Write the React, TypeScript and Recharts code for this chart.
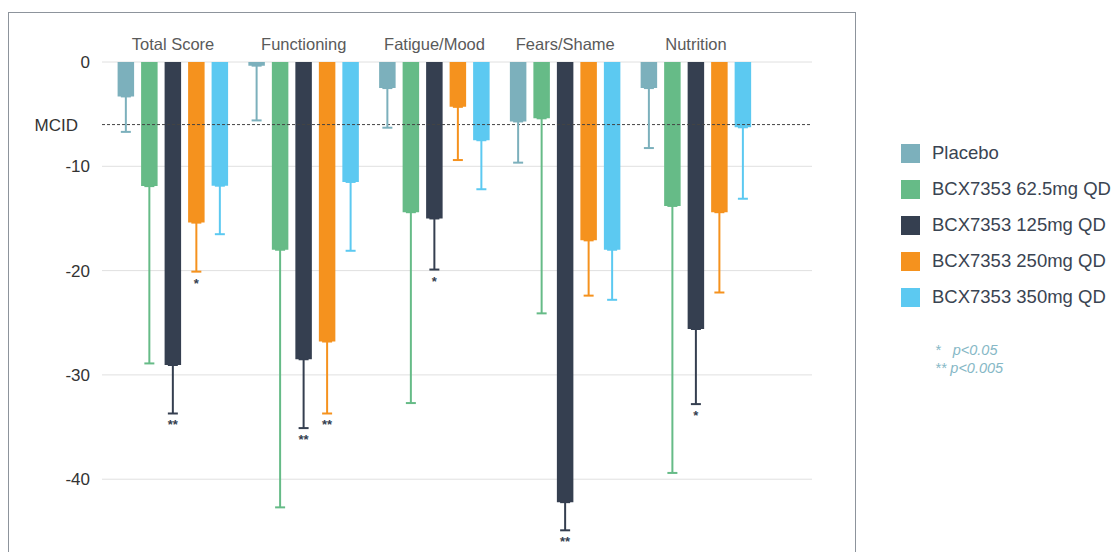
import React from 'react';
import { BarChart, Bar, XAxis, YAxis, CartesianGrid, ErrorBar, ReferenceLine, LabelList, Legend } from 'recharts';

const categories = ['Total Score', 'Functioning', 'Fatigue/Mood', 'Fears/Shame', 'Nutrition'];
const placebo = [-3.3, -0.35, -2.5, -5.7, -2.5];
const placeboErr = [3.4, 5.25, 3.8, 3.95, 5.75];
const dose62 = [-11.9, -18.0, -14.4, -5.4, -13.8];
const dose62Err = [17.0, 24.7, 18.3, 18.7, 25.6];
const dose125 = [-29.05, -28.5, -15.0, -42.2, -25.6];
const dose125Err = [4.65, 6.6, 4.9, 2.7, 7.2];
const dose250 = [-15.4, -26.8, -4.3, -17.1, -14.4];
const dose250Err = [4.7, 6.9, 5.1, 5.3, 7.7];
const dose350 = [-11.86, -11.5, -7.5, -18.0, -6.26];
const dose350Err = [4.65, 6.6, 4.7, 4.8, 6.85];
const stars125 = ['**', '**', '*', '**', '*'];
const stars250 = ['*', '**', '', '', ''];
const yTicks = [0, -6, -10, -20, -30, -40];
const mcidValue = -6;
const seriesNames = ['Placebo', 'BCX7353 62.5mg QD', 'BCX7353 125mg QD', 'BCX7353 250mg QD', 'BCX7353 350mg QD'];
const colors = ['#7cb0bc', '#66bb87', '#353f50', '#f5921e', '#5cc9f1'];

const data = categories.map((c, i) => ({
  name: c,
  placebo: placebo[i],
  placeboErr: [placeboErr[i], 0],
  d62: dose62[i],
  d62Err: [dose62Err[i], 0],
  d125: dose125[i],
  d125Err: [dose125Err[i], 0],
  d250: dose250[i],
  d250Err: [dose250Err[i], 0],
  d350: dose350[i],
  d350Err: [dose350Err[i], 0],
  s125: stars125[i],
  s250: stars250[i],
}));

const FONT = 'Liberation Sans, Arial, sans-serif';

const makeStar = (values: number[], errs: number[], stars: string[]) => (props: any) => {
  const { x, y, width, height, index } = props;
  const s = stars[index];
  if (!s) return null;
  const h = Math.abs(Number(height));
  const top = Math.min(Number(y), Number(y) + Number(height));
  const bottom = top + h;
  const ppu = h / Math.abs(values[index]);
  const errEnd = bottom + errs[index] * ppu;
  return (
    <text x={Number(x) + Number(width) / 2} y={errEnd + 16} textAnchor="middle" fill="#353f50" fontSize={13} fontWeight="bold" fontFamily={FONT}>
      {s}
    </text>
  );
};

const YTick = (props: any) => {
  const { x, y, payload } = props;
  const isMcid = payload.value === mcidValue;
  return (
    <text x={isMcid ? x - 12 : x} y={y} dy={6} textAnchor="end" fill="#333" fontSize={17} fontFamily={FONT}>
      {isMcid ? 'MCID' : String(payload.value)}
    </text>
  );
};

const LegendContent = () => (
  <div style={{ fontFamily: FONT }}>
    {seriesNames.map((n, i) => (
      <div key={n} style={{ display: 'flex', alignItems: 'center', height: 36 }}>
        <div style={{ width: 19, height: 19, background: colors[i], marginRight: 12 }} />
        <span style={{ fontSize: 18.5, color: '#3a4452', whiteSpace: 'nowrap' }}>{n}</span>
      </div>
    ))}
    <div style={{ marginTop: 26, marginLeft: 34, color: '#86b8c6', fontStyle: 'italic', fontSize: 14.5, lineHeight: '18px' }}>
      <div>*&nbsp;&nbsp; p&lt;0.05</div>
      <div>** p&lt;0.005</div>
    </div>
  </div>
);

export default function App() {
  const keys = ['placebo', 'd62', 'd125', 'd250', 'd350'];
  return (
    <div style={{ position: 'fixed', left: 0, top: 0, width: 1114, height: 552, overflow: 'hidden', background: '#fff' }}>
      <div style={{ position: 'absolute', left: 8, top: 12, width: 846, height: 600, border: '1.5px solid #8d949c' }} />
      <div style={{ position: 'absolute', left: 0, top: 0 }}>
        <BarChart width={1114} height={600} data={data} margin={{ top: 22, right: 302, bottom: 16.5, left: 0 }} barSize={16.5} barGap={7}>
          <CartesianGrid vertical={false} horizontalValues={[0, -10, -20, -30, -40]} stroke="#e0e0e0" />
          <XAxis dataKey="name" orientation="top" height={40} axisLine={false} tickLine={false} tickMargin={6} padding={{ left: 5.6, right: 50.6 }} tick={{ fill: '#5a5a5a', fontSize: 16.5, fontFamily: FONT }} interval={0} />
          <YAxis type="number" domain={[-50, 0]} ticks={yTicks} width={102} axisLine={false} tickLine={false} tickMargin={6} tick={<YTick />} interval={0} allowDataOverflow />
          <ReferenceLine y={mcidValue} stroke="#444" strokeDasharray="3 2" strokeWidth={1} />
          <Legend layout="vertical" align="center" verticalAlign="middle" wrapperStyle={{ left: 901, top: 135, width: 220, height: 260 }} content={<LegendContent />} />
          {keys.map((k, i) => (
            <Bar key={k} dataKey={k} name={seriesNames[i]} fill={colors[i]} isAnimationActive={false}>
              <ErrorBar dataKey={k + 'Err'} width={5} stroke={colors[i]} strokeWidth={2} direction="y" />
              {k === 'd125' && <LabelList dataKey="s125" content={makeStar(dose125, dose125Err, stars125)} />}
              {k === 'd250' && <LabelList dataKey="s250" content={makeStar(dose250, dose250Err, stars250)} />}
            </Bar>
          ))}
        </BarChart>
      </div>
    </div>
  );
}
